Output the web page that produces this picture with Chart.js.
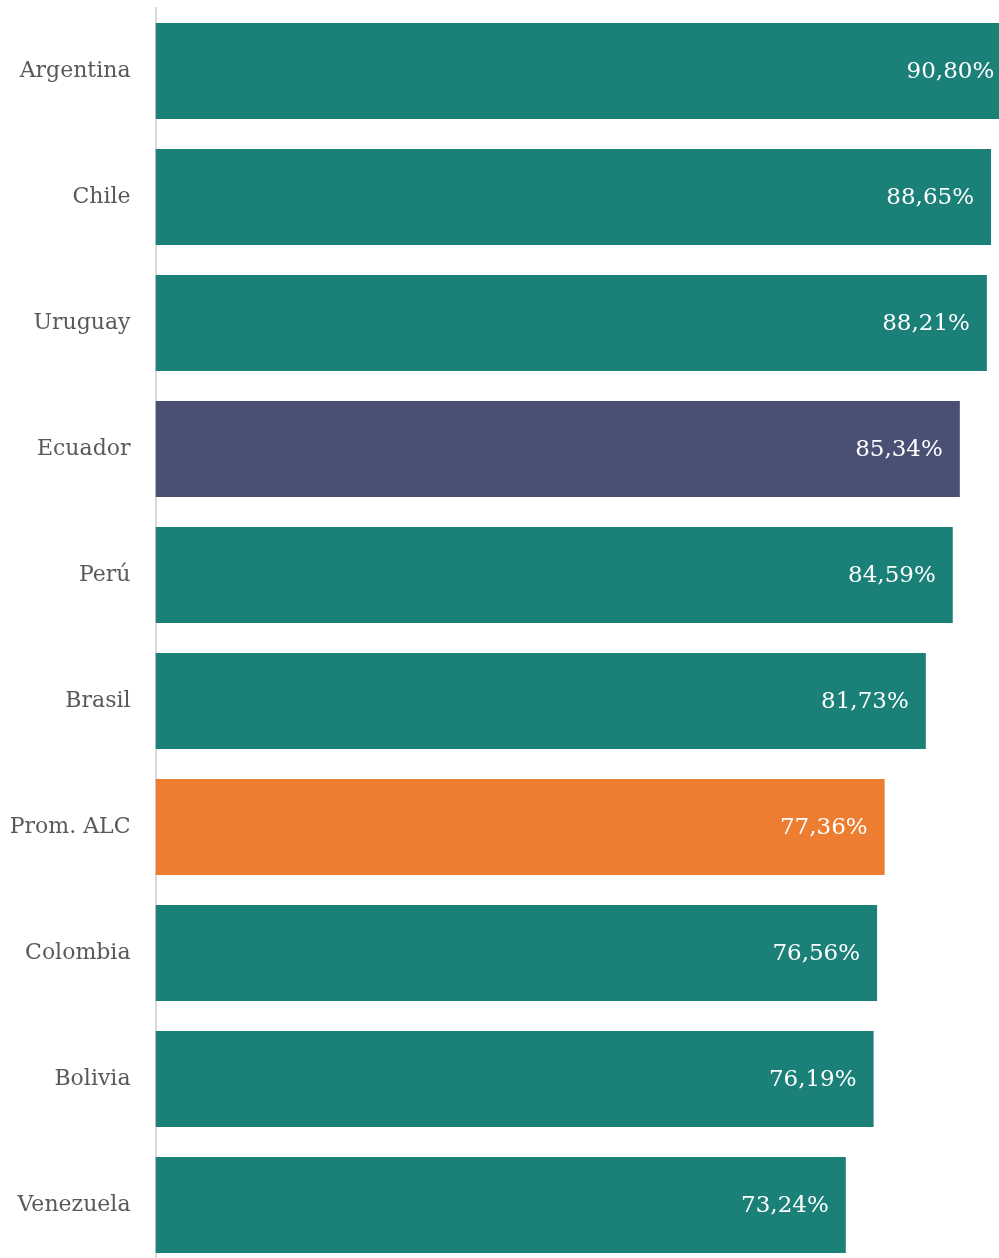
<!DOCTYPE html>
<html>
<head>
<meta charset="utf-8">
<script src="https://cdn.jsdelivr.net/npm/chart.js@4/dist/chart.umd.min.js"></script>
<style>
  html, body { margin: 0; padding: 0; background: #fff; overflow: hidden; }
  canvas { display: block; }
</style>
</head>
<body>
<canvas id="bars" width="1098" height="1268"></canvas>
<script>
  // Datos
  const countries = ['Argentina', 'Chile', 'Uruguay', 'Ecuador', 'Perú', 'Brasil', 'Prom. ALC', 'Colombia', 'Bolivia', 'Venezuela'];
  const values = [90.80, 88.65, 88.21, 85.34, 84.59, 81.73, 77.36, 76.56, 76.19, 73.24];

  const TEAL = '#1a8078';
  const NAVY = '#4a5073';
  const ORANGE = '#ed7d31';

  const barColors = countries.map(c => {
    if (c === 'Ecuador') return NAVY;
    if (c === 'Prom. ALC') return ORANGE;
    return TEAL;
  });

  const fontFamily = '"DejaVu Serif", "Liberation Serif", serif';

  // etiquetas de valor dentro de la barra, alineadas a la derecha
  const valueLabels = {
    id: 'valueLabels',
    afterDatasetsDraw(chart) {
      const ctx = chart.ctx;
      const meta = chart.getDatasetMeta(0);
      ctx.save();
      ctx.fillStyle = '#ffffff';
      ctx.font = '23px ' + fontFamily;
      ctx.textAlign = 'right';
      ctx.textBaseline = 'middle';
      meta.data.forEach((bar, i) => {
        const txt = values[i].toFixed(2).replace('.', ',') + '%';
        ctx.fillText(txt, bar.x - 17, bar.y + 1);
      });
      ctx.restore();
    }
  };

  const ctx = document.getElementById('bars').getContext('2d');
  new Chart(ctx, {
    type: 'bar',
    data: {
      labels: countries,
      datasets: [{
        data: values,
        backgroundColor: barColors,
        borderWidth: 0,
        categoryPercentage: 1,
        barPercentage: 0.762
      }]
    },
    options: {
      indexAxis: 'y',
      responsive: false,
      animation: false,
      devicePixelRatio: 1,
      layout: { autoPadding: false, padding: { top: 8, right: 0, bottom: 0, left: 0 } },
      scales: {
        x: {
          display: false,
          min: 0,
          max: 100
        },
        y: {
          afterFit(scale) {
            scale.width = 155.5;
            scale.paddingTop = 0;
            scale.paddingBottom = 0;
          },
          // las marcas no se dibujan; su largo solo separa las etiquetas del eje
          grid: { display: false, drawTicks: true, tickLength: 25 },
          border: { display: true, color: '#d9d9d9', width: 2 },
          ticks: {
            color: '#595959',
            padding: 0,
            font: { family: fontFamily, size: 22 }
          }
        }
      },
      plugins: {
        legend: { display: false },
        tooltip: { enabled: false }
      }
    },
    plugins: [valueLabels]
  });
</script>
</body>
</html>
